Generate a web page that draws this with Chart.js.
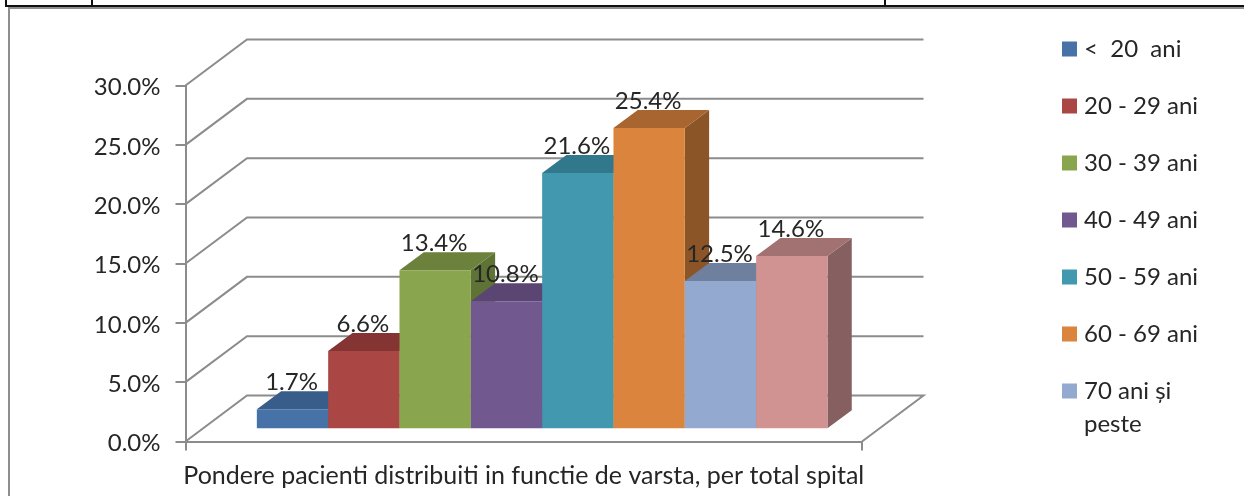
<!DOCTYPE html>
<html>
<head>
<meta charset="utf-8">
<style>
html,body{margin:0;padding:0;background:#fff;overflow:hidden}
#wrap{position:relative;width:1244px;height:496px}
canvas{position:absolute;left:0;top:0}
.f{position:absolute}
</style>
<script src="https://cdn.jsdelivr.net/npm/chart.js@4/dist/chart.umd.min.js"></script>
</head>
<body>
<div id="wrap">
  <div class="f" style="left:5px;top:5px;width:1239px;height:2px;background:#111"></div>
  <div class="f" style="left:5px;top:0;width:2px;height:6px;background:#111"></div>
  <div class="f" style="left:91px;top:0;width:2px;height:5px;background:#111"></div>
  <div class="f" style="left:884px;top:0;width:2px;height:5px;background:#111"></div>
  <div class="f" style="left:8px;top:7px;width:1236px;height:2px;background:#8e8e8e"></div>
  <div class="f" style="left:8px;top:7px;width:2px;height:489px;background:#8e8e8e"></div>
  <canvas id="c" width="1244" height="496"></canvas>
</div>
<script>
const categoryLabel = "Pondere pacienti distribuiti in functie de varsta, per total spital";
const seriesNames = ["<  20  ani", "20 - 29 ani", "30 - 39 ani", "40 - 49 ani", "50 - 59 ani", "60 - 69 ani", "70 ani și peste", ""];
const legendLines = [["<  20  ani"], ["20 - 29 ani"], ["30 - 39 ani"], ["40 - 49 ani"], ["50 - 59 ani"], ["60 - 69 ani"], ["70 ani și", "peste"]];
const seriesValues = [1.7, 6.6, 13.4, 10.8, 21.6, 25.4, 12.5, 14.6];
const frontColors = ["#4672A8", "#AA4644", "#89A54E", "#71588F", "#4198AF", "#DB843D", "#93A9CF", "#D19392"];
const topColors = ["#385D8A", "#843533", "#6B813C", "#5A4573", "#31788C", "#A9652F", "#6F7F9E", "#A27272"];
const sideColors = ["#2F4D73", "#6E2C2A", "#5F7336", "#4B3A60", "#296475", "#8B5528", "#5E6B85", "#866060"];
const tickValues = [0, 5, 10, 15, 20, 25, 30];

const FONT = "Lato, 'Open Sans', sans-serif";
const GRID = "#8c8c8c";
const TEXT = "#262626";
const WALL = {dx: 61.5, dy: -46};
const BAR_SHIFT = {dx: 18.4, dy: -12.2};
const BAR_DEPTH = {dx: 24.3, dy: -18};
const nudged = new WeakSet();

function poly(ctx, pts, fill) {
  ctx.beginPath();
  pts.forEach((p, i) => i ? ctx.lineTo(p[0], p[1]) : ctx.moveTo(p[0], p[1]));
  ctx.closePath();
  ctx.fillStyle = fill;
  ctx.fill();
}

const threeD = {
  id: 'threeD',
  beforeDraw(chart) {
    chart.scales.y.getLabelItems().forEach(it => {
      if (!nudged.has(it)) { it.options.translation[1] += 2; nudged.add(it); }
    });
  },
  beforeDatasetsDraw(chart) {
    const {ctx, chartArea: a, scales} = chart;
    ctx.save();
    ctx.strokeStyle = GRID;
    ctx.lineWidth = 2;
    ctx.lineJoin = 'miter';
    scales.y.ticks.forEach(t => {
      const y = scales.y.getPixelForValue(t.value);
      ctx.beginPath();
      ctx.moveTo(a.left, y);
      ctx.lineTo(a.left + WALL.dx, y + WALL.dy);
      ctx.lineTo(a.right + WALL.dx, y + WALL.dy);
      if (t.value === 0) ctx.lineTo(a.right, y);
      ctx.stroke();
    });
    ctx.translate(BAR_SHIFT.dx, BAR_SHIFT.dy);
    chart.data.datasets.forEach((ds, i) => {
      const bar = chart.getDatasetMeta(i).data[0];
      const l = bar.x - bar.width / 2, r = bar.x + bar.width / 2, t = bar.y, b = bar.base;
      const d = BAR_DEPTH;
      poly(ctx, [[r, b], [r + d.dx, b + d.dy], [r + d.dx, t + d.dy], [r, t]], sideColors[i]);
      poly(ctx, [[l, t], [l + d.dx, t + d.dy], [r + d.dx, t + d.dy], [r, t]], topColors[i]);
      bar.draw(ctx);
    });
    ctx.restore();
    return false;
  },
  afterDraw(chart) {
    const {ctx} = chart;
    ctx.save();
    ctx.font = "24px " + FONT;
    ctx.fillStyle = TEXT;
    ctx.textAlign = 'center';
    ctx.textBaseline = 'middle';
    chart.data.datasets.forEach((ds, i) => {
      const bar = chart.getDatasetMeta(i).data[0];
      ctx.fillText(ds.data[0].toFixed(1) + '%', bar.x + BAR_SHIFT.dx - 1, bar.y + BAR_SHIFT.dy - 27);
    });
    ctx.textAlign = 'left';
    legendLines.forEach((lines, i) => {
      const cy = 49 + i * 57;
      ctx.fillStyle = frontColors[i];
      ctx.fillRect(1062, cy - 7.5, 15, 15);
      ctx.fillStyle = TEXT;
      lines.forEach((s, j) => ctx.fillText(s, 1084, cy + j * 33));
    });
    ctx.restore();
  }
};

new Chart(document.getElementById('c'), {
  type: 'bar',
  data: {
    labels: [categoryLabel],
    datasets: seriesValues.map((v, i) => ({
      label: seriesNames[i],
      data: [v],
      backgroundColor: frontColors[i],
      borderWidth: 0
    }))
  },
  options: {
    responsive: false,
    animation: false,
    layout: {autoPadding: false, padding: {top: 85.5, right: 382, bottom: 0, left: 0}},
    plugins: {legend: {display: false}, title: {display: false}, tooltip: {enabled: false}},
    datasets: {bar: {barPercentage: 1, categoryPercentage: 0.8435}},
    scales: {
      x: {
        afterFit(s) { s.height = 54.5; },
        border: {color: GRID, width: 2},
        grid: {color: GRID, lineWidth: 2, drawOnChartArea: false, drawTicks: true, tickLength: 9, offset: true},
        ticks: {color: TEXT, font: {family: FONT, size: 25}, padding: 10, maxRotation: 0, minRotation: 0, autoSkip: false}
      },
      y: {
        min: 0, max: 30,
        afterFit(s) { s.width = 185.5; },
        afterBuildTicks(s) { s.ticks = tickValues.map(v => ({value: v})); },
        border: {color: GRID, width: 2},
        grid: {color: GRID, lineWidth: 2, drawOnChartArea: false, drawTicks: true, tickLength: 10},
        ticks: {color: TEXT, font: {family: FONT, size: 24}, padding: 15, callback: v => v.toFixed(1) + '%'}
      }
    }
  },
  plugins: [threeD]
});
</script>
</body>
</html>
